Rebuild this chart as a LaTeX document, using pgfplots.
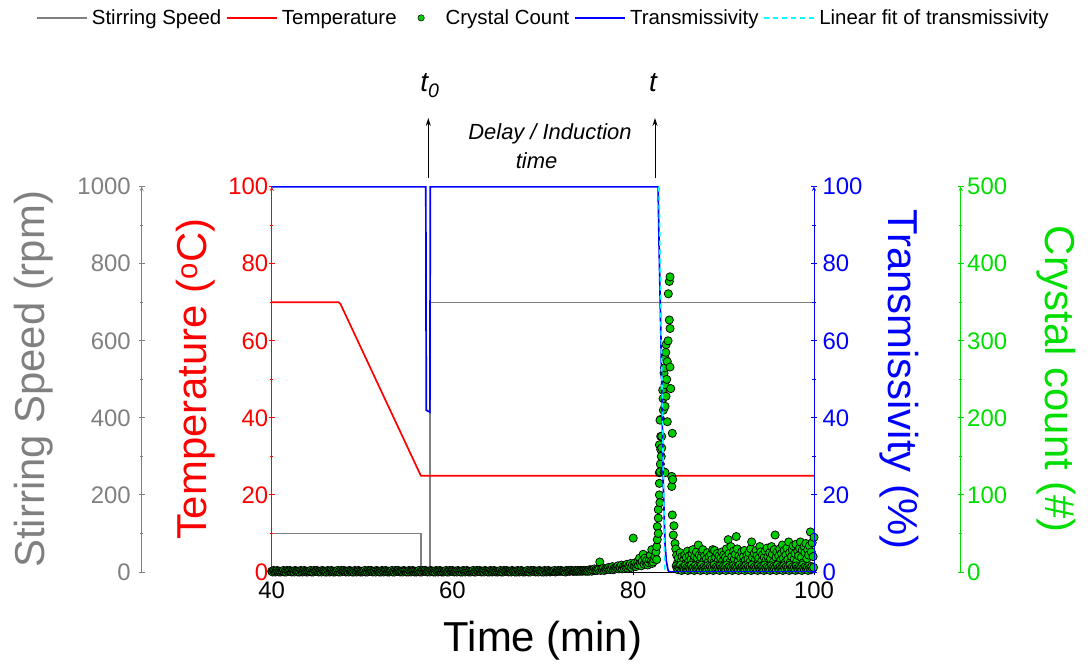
\documentclass[border=0pt]{standalone}
\usepackage{fontspec}
\setmainfont{Liberation Sans}
\usepackage{pgfplots}
\pgfplotsset{compat=1.18}
\usetikzlibrary{arrows.meta}
\definecolor{sgray}{RGB}{128,128,128}
\definecolor{tred}{RGB}{255,0,0}
\definecolor{tblue}{RGB}{0,0,255}
\definecolor{cgreen}{RGB}{0,222,0}
\definecolor{mgreen}{RGB}{0,205,0}
\definecolor{fcyan}{RGB}{0,255,255}

\pgfplotsset{
  base/.style={scale only axis, width=542.3bp, height=385.3bp, xmin=40, xmax=100,
    /pgf/number format/assume math mode=true,
    /pgf/number format/1000 sep={},
    tick align=outside, major tick length=6bp, minor tick length=3.5bp,
    ticklabel style={font=\fontsize{24}{24}\selectfont},
    x axis line style={-}, y axis line style={-},
  },
  linelegend/.style={legend image code/.code={\draw[##1] (0bp,0bp) -- (50bp,0bp);}},
  dotlegend/.style={legend image code/.code={\path[draw=none] (0bp,0bp) -- (40bp,0bp); \path[draw=black, fill=mgreen, line width=0.5bp] (20bp,0bp) circle[radius=3.2bp];}},
}

\begin{document}
\begin{tikzpicture}[x=1bp,y=1bp]
\useasboundingbox (0,0) rectangle (1088,667);

% ---------- Stirring speed data (0-1000 rpm)
\begin{axis}[base, at={(271.7bp,95bp)}, anchor=south west, ymin=0, ymax=1000, hide axis]
\addplot[sgray, line width=1.5bp] coordinates {(40,100) (56.5,100) (56.5,0) (57.5,0) (57.5,700) (100,700)};
\end{axis}

% ---------- Stirring speed scale axis
\begin{axis}[base, at={(141.7bp,95bp)}, anchor=south west, ymin=0, ymax=1000,
  axis x line=none, axis y line=left,
  y axis line style={sgray, line width=0.9bp},
  ytick={0,200,400,600,800,1000}, minor y tick num=1,
  y tick style={sgray, line width=0.9bp}, yticklabel style={sgray, xshift=-4.5bp}]
\end{axis}

% ---------- Temperature axis (main)
\begin{axis}[base, at={(271.7bp,95bp)}, anchor=south west, ymin=0, ymax=100,
  axis x line=bottom, axis y line=left,
  x axis line style={black, line width=0.9bp},
  y axis line style={tred, line width=0.9bp},
  xtick={40,60,80,100}, minor x tick num=1,
  ytick={0,20,40,60,80,100}, minor y tick num=1,
  x tick style={black, line width=0.9bp}, y tick style={tred, line width=0.9bp},
  xticklabel style={black, yshift=-3bp}, yticklabel style={tred, xshift=3bp}]
\addplot[tred, line width=1.7bp] coordinates {(40,70) (47.4,70) (47.6,69.6) (56.5,25) (100,25)};
\end{axis}

% ---------- Crystal count data (0-500)
\begin{axis}[base, at={(271.7bp,95bp)}, anchor=south west, ymin=0, ymax=500, hide axis]
\addplot[only marks, mark=*, mark size=4.1bp, mark options={fill=mgreen, draw=black, line width=0.75bp}]
table[row sep=\\] {x y\\
40.0 1\\40.1 0\\40.2 2\\40.3 1\\40.4 0\\40.5 1\\40.6 2\\40.7 1\\40.8 0\\40.9 1\\
41.0 0\\41.1 1\\41.2 1\\41.3 2\\41.4 0\\41.5 1\\41.6 0\\41.7 2\\41.8 1\\41.9 1\\
42.0 2\\42.1 1\\42.2 0\\42.3 1\\42.4 1\\42.5 0\\42.6 2\\42.7 1\\42.8 1\\42.9 0\\
43.0 1\\43.1 0\\43.2 2\\43.3 1\\43.4 0\\43.5 1\\43.6 2\\43.7 1\\43.8 0\\43.9 1\\
44.0 0\\44.1 1\\44.2 1\\44.3 2\\44.4 0\\44.5 1\\44.6 0\\44.7 2\\44.8 1\\44.9 1\\
45.0 2\\45.1 1\\45.2 0\\45.3 1\\45.4 1\\45.5 0\\45.6 2\\45.7 1\\45.8 1\\45.9 0\\
46.0 1\\46.1 0\\46.2 2\\46.3 1\\46.4 0\\46.5 1\\46.6 2\\46.7 1\\46.8 0\\46.9 1\\
47.0 0\\47.1 1\\47.2 1\\47.3 2\\47.4 0\\47.5 1\\47.6 0\\47.7 2\\47.8 1\\47.9 1\\
48.0 2\\48.1 1\\48.2 0\\48.3 1\\48.4 1\\48.5 0\\48.6 2\\48.7 1\\48.8 1\\48.9 0\\
49.0 1\\49.1 0\\49.2 2\\49.3 1\\49.4 0\\49.5 1\\49.6 2\\49.7 1\\49.8 0\\49.9 1\\
50.0 0\\50.1 1\\50.2 1\\50.3 2\\50.4 0\\50.5 1\\50.6 0\\50.7 2\\50.8 1\\50.9 1\\
51.0 2\\51.1 1\\51.2 0\\51.3 1\\51.4 1\\51.5 0\\51.6 2\\51.7 1\\51.8 1\\51.9 0\\
52.0 1\\52.1 0\\52.2 2\\52.3 1\\52.4 0\\52.5 1\\52.6 2\\52.7 1\\52.8 0\\52.9 1\\
53.0 0\\53.1 1\\53.2 1\\53.3 2\\53.4 0\\53.5 1\\53.6 0\\53.7 2\\53.8 1\\53.9 1\\
54.0 2\\54.1 1\\54.2 0\\54.3 1\\54.4 1\\54.5 0\\54.6 2\\54.7 1\\54.8 1\\54.9 0\\
55.0 1\\55.1 0\\55.2 2\\55.3 1\\55.4 0\\55.5 1\\55.6 2\\55.7 1\\55.8 0\\55.9 1\\
56.0 0\\56.1 1\\56.2 1\\56.3 2\\56.4 0\\56.5 1\\56.6 0\\56.7 2\\56.8 1\\56.9 1\\
57.0 2\\57.1 1\\57.2 0\\57.3 1\\57.4 1\\57.5 0\\57.6 2\\57.7 1\\57.8 1\\57.9 0\\
58.0 1\\58.1 0\\58.2 2\\58.3 1\\58.4 0\\58.5 1\\58.6 2\\58.7 1\\58.8 0\\58.9 1\\
59.0 0\\59.1 1\\59.2 1\\59.3 2\\59.4 0\\59.5 1\\59.6 0\\59.7 2\\59.8 1\\59.9 1\\
60.0 2\\60.1 1\\60.2 0\\60.3 1\\60.4 1\\60.5 0\\60.6 2\\60.7 1\\60.8 1\\60.9 0\\
61.0 1\\61.1 0\\61.2 2\\61.3 1\\61.4 0\\61.5 1\\61.6 2\\61.7 1\\61.8 0\\61.9 1\\
62.0 0\\62.1 1\\62.2 1\\62.3 2\\62.4 0\\62.5 1\\62.6 0\\62.7 2\\62.8 1\\62.9 1\\
63.0 2\\63.1 1\\63.2 0\\63.3 1\\63.4 1\\63.5 0\\63.6 2\\63.7 1\\63.8 1\\63.9 0\\
64.0 1\\64.1 0\\64.2 2\\64.3 1\\64.4 0\\64.5 1\\64.6 2\\64.7 1\\64.8 0\\64.9 1\\
65.0 0\\65.1 1\\65.2 1\\65.3 2\\65.4 0\\65.5 1\\65.6 0\\65.7 2\\65.8 1\\65.9 1\\
66.0 2\\66.1 1\\66.2 0\\66.3 1\\66.4 1\\66.5 0\\66.6 2\\66.7 1\\66.8 1\\66.9 0\\
67.0 1\\67.1 0\\67.2 2\\67.3 1\\67.4 0\\67.5 1\\67.6 2\\67.7 1\\67.8 0\\67.9 1\\
68.0 0\\68.1 1\\68.2 1\\68.3 2\\68.4 0\\68.5 1\\68.6 0\\68.7 2\\68.8 1\\68.9 1\\
69.0 2\\69.1 1\\69.2 0\\69.3 1\\69.4 1\\69.5 0\\69.6 2\\69.7 1\\69.8 1\\69.9 0\\
70.0 1\\70.1 0\\70.2 2\\70.3 1\\70.4 0\\70.5 1\\70.6 2\\70.7 1\\70.8 0\\70.9 1\\
71.0 1\\71.1 1\\71.2 1\\71.3 2\\71.4 0\\71.5 1\\71.6 1\\71.7 2\\71.8 1\\71.9 1\\
72.0 2\\72.1 1\\72.2 1\\72.3 1\\72.4 1\\72.5 0\\72.6 2\\72.7 1\\72.8 2\\72.9 1\\
73.0 1\\73.1 2\\73.2 2\\73.3 1\\73.4 1\\73.5 1\\73.6 2\\73.7 1\\73.8 1\\73.9 2\\
74.0 1\\74.1 2\\74.2 1\\74.3 2\\74.4 1\\74.5 2\\74.6 2\\74.7 1\\74.8 2\\74.9 1\\
75.0 2\\75.1 1\\75.2 3\\75.3 2\\75.4 1\\75.5 3\\75.6 2\\75.7 4\\75.8 2\\75.9 3\\
76.0 2\\76.1 4\\76.2 3\\76.3 13\\76.4 2\\76.5 4\\76.6 3\\76.7 5\\76.8 2\\76.9 4\\
77.0 3\\77.1 5\\77.2 4\\77.3 6\\77.4 3\\77.5 5\\77.6 4\\77.7 7\\77.8 3\\77.9 5\\
78.0 4\\78.1 6\\78.2 5\\78.3 8\\78.4 4\\78.5 6\\78.6 5\\78.7 9\\78.8 4\\78.9 7\\
79.0 5\\79.1 8\\79.2 6\\79.3 10\\79.4 5\\79.5 8\\79.6 7\\79.7 11\\79.8 6\\79.9 9\\
80.0 44\\80.1 8\\80.2 12\\80.3 7\\80.4 10\\80.5 13\\80.6 9\\80.7 18\\80.8 11\\80.9 8\\
81.0 14\\81.1 23\\81.2 10\\81.3 18\\81.4 12\\81.5 15\\81.6 9\\81.7 12\\81.8 16\\81.9 22\\
82.0 14\\82.05 29\\82.1 11\\82.2 13\\82.3 17\\
82.41 20\\82.52 26\\82.60 33\\82.60 16\\82.66 42\\82.66 59\\82.77 50\\82.77 70\\82.77 81\\82.89 100\\
82.89 115\\82.89 129\\82.89 165\\82.95 90\\83.0 140\\83.04 176\\83.04 198\\83.04 159\\83.1 150\\83.15 161\\
82.96 130\\82.96 197\\83.15 176\\83.26 236\\83.3 225\\83.33 210\\83.41 130\\83.41 258\\83.45 265\\83.52 129\\
83.52 215\\83.52 243\\83.52 278\\83.6 285\\83.63 228\\83.63 295\\83.7 250\\83.77 195\\83.77 273\\83.85 300\\
83.88 361\\83.99 377\\83.99 327\\84.07 383\\84.07 316\\84.07 266\\84.15 238\\84.26 111\\84.26 124\\84.32 180\\
84.32 74\\84.37 120\\84.43 48\\84.62 37\\84.5 60\\
84.7 30\\84.8 22\\84.9 12\\85.0 18\\85.1 9\\85.2 25\\85.3 14\\85.4 20\\85.5 8\\85.6 16\\
85.7 22\\85.8 11\\85.9 19\\86.0 27\\86.1 13\\86.2 21\\86.3 9\\86.4 17\\86.5 24\\86.6 29\\
86.7 15\\86.8 20\\86.9 10\\87.0 26\\87.1 18\\87.2 35\\87.3 22\\87.4 12\\87.5 19\\87.6 27\\
87.7 29\\87.8 14\\87.9 21\\88.0 8\\88.1 17\\88.2 25\\88.3 13\\88.4 20\\88.5 10\\88.6 23\\
88.7 16\\88.8 29\\88.9 12\\89.0 28\\89.1 19\\89.2 9\\89.3 24\\89.4 15\\89.5 21\\89.6 11\\
89.7 18\\89.8 26\\89.9 14\\90.0 22\\90.1 10\\90.2 19\\90.3 30\\90.4 16\\90.5 42\\90.6 24\\
90.7 13\\90.8 33\\90.9 20\\91.0 11\\91.1 27\\91.2 17\\91.3 23\\91.4 46\\91.5 30\\91.6 14\\
91.7 21\\91.8 9\\91.9 18\\92.0 26\\92.1 12\\92.2 20\\92.3 28\\92.4 15\\92.5 10\\92.6 22\\
92.7 17\\92.8 25\\92.9 13\\93.0 30\\93.1 39\\93.2 19\\93.3 11\\93.4 24\\93.5 16\\93.6 28\\
93.7 21\\93.8 12\\93.9 18\\94.0 33\\94.1 26\\94.2 14\\94.3 22\\94.4 9\\94.5 19\\94.6 27\\
94.7 15\\94.8 31\\94.9 20\\95.0 12\\95.1 25\\95.2 17\\95.3 33\\95.4 23\\95.5 13\\95.6 29\\
95.7 48\\95.8 19\\95.9 26\\96.0 11\\96.1 21\\96.2 30\\96.3 15\\96.4 24\\96.5 35\\96.6 18\\
96.7 28\\96.8 12\\96.9 22\\97.0 31\\97.1 16\\97.2 39\\97.3 25\\97.4 13\\97.5 20\\97.6 29\\
97.7 34\\97.8 17\\97.9 24\\98.0 36\\98.1 14\\98.2 27\\98.3 21\\98.4 31\\98.5 39\\98.6 19\\
98.7 28\\98.8 12\\98.9 33\\99.0 25\\99.1 37\\99.2 17\\99.3 29\\99.4 22\\99.5 34\\99.6 52\\
99.7 26\\99.8 38\\99.9 20\\100.0 45\\
84.75 8\\84.85 5\\84.95 3\\85.05 7\\85.15 4\\85.25 9\\85.35 2\\85.45 6\\85.55 5\\85.65 3\\
85.75 8\\85.85 4\\85.95 6\\86.05 2\\86.15 7\\86.25 5\\86.35 3\\86.45 9\\86.55 4\\86.65 6\\
86.75 2\\86.85 8\\86.95 5\\87.05 3\\87.15 7\\87.25 4\\87.35 6\\87.45 2\\87.55 9\\87.65 5\\
87.75 3\\87.85 7\\87.95 4\\88.05 6\\88.15 2\\88.25 8\\88.35 5\\88.45 3\\88.55 7\\88.65 4\\
88.75 6\\88.85 2\\88.95 9\\89.05 5\\89.15 3\\89.25 7\\89.35 4\\89.45 6\\89.55 2\\89.65 8\\
89.75 5\\89.85 3\\89.95 7\\90.05 4\\90.15 6\\90.25 2\\90.35 9\\90.45 5\\90.55 3\\90.65 7\\
90.75 4\\90.85 6\\90.95 2\\91.05 8\\91.15 5\\91.25 3\\91.35 7\\91.45 4\\91.55 6\\91.65 2\\
91.75 9\\91.85 5\\91.95 3\\92.05 7\\92.15 4\\92.25 6\\92.35 2\\92.45 8\\92.55 5\\92.65 3\\
92.75 7\\92.85 4\\92.95 6\\93.05 2\\93.15 9\\93.25 5\\93.35 3\\93.45 7\\93.55 4\\93.65 6\\
93.75 2\\93.85 8\\93.95 5\\94.05 3\\94.15 7\\94.25 4\\94.35 6\\94.45 2\\94.55 9\\94.65 5\\
94.75 3\\94.85 7\\94.95 4\\95.05 6\\95.15 2\\95.25 8\\95.35 5\\95.45 3\\95.55 7\\95.65 4\\
95.75 6\\95.85 2\\95.95 9\\96.05 5\\96.15 3\\96.25 7\\96.35 4\\96.45 6\\96.55 2\\96.65 8\\
96.75 5\\96.85 3\\96.95 7\\97.05 4\\97.15 6\\97.25 2\\97.35 9\\97.45 5\\97.55 3\\97.65 7\\
97.75 4\\97.85 6\\97.95 2\\98.05 8\\98.15 5\\98.25 3\\98.35 7\\98.45 4\\98.55 6\\98.65 2\\
98.75 9\\98.85 5\\98.95 3\\99.05 7\\99.15 4\\99.25 6\\99.35 2\\99.45 8\\99.55 5\\99.65 3\\
99.75 7\\99.85 4\\99.95 6\\
};
\end{axis}

% ---------- Crystal count scale axis
\begin{axis}[base, at={(960.7bp,95bp)}, anchor=south east, ymin=0, ymax=500,
  axis x line=none, axis y line=right,
  y axis line style={cgreen, line width=0.9bp},
  ytick={0,100,200,300,400,500}, minor y tick num=1,
  y tick style={cgreen, line width=0.9bp}, yticklabel style={cgreen}]
\end{axis}

% ---------- Transmissivity axis
\begin{axis}[base, at={(271.7bp,95bp)}, anchor=south west, ymin=0, ymax=100,
  axis x line=none, axis y line=right,
  y axis line style={tblue, line width=0.9bp},
  ytick={0,20,40,60,80,100}, minor y tick num=1,
  y tick style={tblue, line width=0.9bp}, yticklabel style={tblue, xshift=2bp},
  legend columns=-1,
  legend style={draw=none, fill=none, at={(axis description cs:0.503,1.438)}, anchor=center,
    font=\fontsize{20.5}{24}\selectfont,
    /tikz/every even column/.append style={column sep=0bp},
    nodes={inner xsep=4.5bp, inner ysep=1bp}},
  linelegend]
\addlegendimage{sgray, line width=1.6bp}
\addlegendentry{Stirring Speed}
\addlegendimage{tred, line width=1.6bp}
\addlegendentry{Temperature}
\addlegendimage{dotlegend}
\addlegendentry{Crystal Count}
\addplot[tblue, line width=1.7bp] coordinates {(40,100) (57.05,100) (57.1,42) (57.5,41.5) (57.55,100) (82.75,100) (82.85,86) (83.07,60) (83.33,22) (83.5,8) (83.65,3) (83.85,0.5) (84,0) (100,0)};
\addlegendentry{Transmissivity}
\addplot[fcyan, dash pattern=on 5bp off 4bp, line width=1.7bp] coordinates {(82.85,100) (83.5,0)};
\addlegendentry{Linear fit of transmissivity}
\end{axis}

% ---------- axis titles
\node[anchor=base, font=\fontsize{42}{42}\selectfont] at (543,15) {Time (min)};
\node[anchor=base, rotate=90, font=\fontsize{42}{42}\selectfont, text=sgray] at (44,287.7) {Stirring Speed (rpm)};
\node[anchor=base, rotate=90, font=\fontsize{42}{42}\selectfont, text=tred] at (206,287.7) {Temperature (\textsuperscript{o}C)};
\node[anchor=base, rotate=-90, font=\fontsize{42}{42}\selectfont, text=tblue] at (888,287.7) {Transmissivity (\%)};
\node[anchor=base, rotate=-90, font=\fontsize{42}{42}\selectfont, text=cgreen] at (1045,287.7) {Crystal count (\#)};

% ---------- annotations
\draw[-{Stealth[length=8bp,width=5bp]}, line width=1bp] (428.3,489) -- (428.3,549);
\draw[-{Stealth[length=8bp,width=5bp]}, line width=1bp] (655,489) -- (655,549);
\node[anchor=base, font=\fontsize{28}{28}\selectfont\itshape] at (430,575) {t\textsubscript{0}};
\node[anchor=base, font=\fontsize{28}{28}\selectfont\itshape] at (653,575) {t};
\node[anchor=base, font=\fontsize{22}{22}\selectfont\itshape] at (550,527.7) {Delay / Induction};
\node[anchor=base, font=\fontsize{22}{22}\selectfont\itshape] at (536.5,498.7) {time};
\end{tikzpicture}
\end{document}
